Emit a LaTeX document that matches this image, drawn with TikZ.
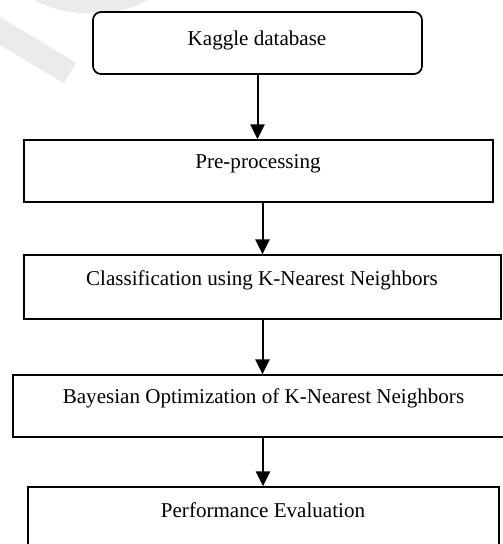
\documentclass[tikz,border=0pt]{standalone}
\usepackage{fontspec}
\setmainfont{Liberation Serif}
\usetikzlibrary{arrows.meta}

\tikzset{
  stepbox/.style={draw, line width=1.3pt, inner sep=0pt},
  steptext/.style={inner sep=0pt, font=\fontsize{15.8}{19}\selectfont},
  flow/.style={line width=1.5pt, -{Triangle[length=11pt, width=10.5pt]}},
  watermark/.style={black!8}
}

\begin{document}
\begin{tikzpicture}[x=0.75pt,y=0.75pt,yscale=-1,xscale=1]
\useasboundingbox (0,0) rectangle (503,544);
\clip (0,0) rectangle (503,544);

%Watermark fragments
\fill [watermark] (35,0) .. controls (65,18) and (120,18) .. (147,0) -- cycle ;
\draw [watermark, line width=18pt] (-10,25) -- (70,73) ;

%Shape: Rounded Rect
\node [stepbox, rounded corners=6pt, minimum width=246.75pt, minimum height=46.5pt] (kaggle) at (257.5,43) {};
\node [steptext] (kaggletxt) at (257,40) {Kaggle database};
%Shape: Rectangle
\node [stepbox, minimum width=351.75pt, minimum height=46.5pt] (prep) at (258.5,171) {};
\node [steptext] (preptxt) at (258,164) {Pre-processing};
%Shape: Rectangle
\node [stepbox, minimum width=357.75pt, minimum height=48pt] (knn) at (262.5,287) {};
\node [steptext] (knntxt) at (262,280) {Classification using K-Nearest Neighbors};
%Shape: Rectangle
\node [stepbox, minimum width=375pt, minimum height=46.5pt] (bayes) at (263,406) {};
\node [steptext] (bayestxt) at (263.5,398) {Bayesian Optimization of K-Nearest Neighbors};
%Shape: Rectangle
\node [stepbox, minimum width=353.25pt, minimum height=54.75pt] (perf) at (263.5,523.5) {};
\node [steptext] (perftxt) at (263,510) {Performance Evaluation};

%Straight Lines
\draw [flow] (kaggle.south) -- (kaggle.south |- prep.north) ;
\draw [flow] (prep.south -| knn.north) -- (knn.north) ;
\draw [flow] (knn.south) -- (knn.south |- bayes.north) ;
\draw [flow] (bayes.south) -- (bayes.south |- perf.north) ;

\end{tikzpicture}
\end{document}
